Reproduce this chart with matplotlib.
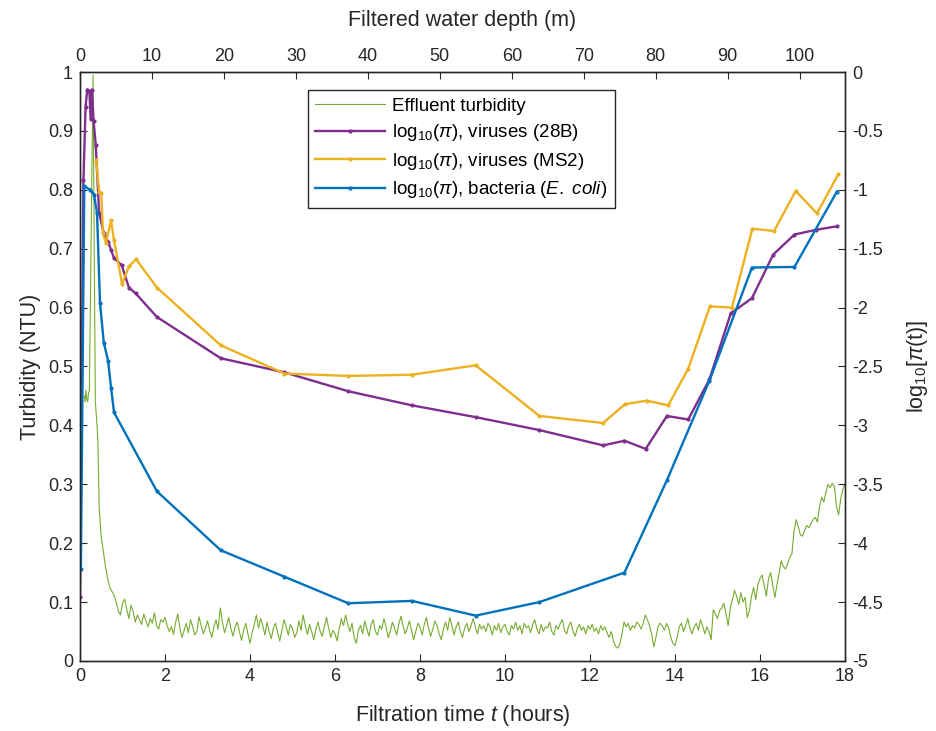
import numpy as np
import matplotlib
matplotlib.use("Agg")
from matplotlib import pyplot as plt
from matplotlib.ticker import FormatStrFormatter

plt.rcParams['font.family'] = ['Liberation Sans', 'DejaVu Sans']
plt.rcParams['axes.unicode_minus'] = False
plt.rcParams['mathtext.fontset'] = 'custom'
plt.rcParams['mathtext.rm'] = 'Liberation Sans'
plt.rcParams['mathtext.it'] = 'Liberation Sans:italic'

# effluent turbidity (NTU), first minutes read point by point
turb_t_early = [0.10, 0.12, 0.14, 0.16, 0.18, 0.20, 0.22, 0.306, 0.36, 0.40, 0.42, 0.45,
                0.50, 0.54, 0.60, 0.65, 0.70, 0.75, 0.80, 0.85, 0.90, 0.95]
turb_v_early = [0.45, 0.44, 0.46, 0.445, 0.44, 0.455, 0.46, 0.995, 0.44, 0.40, 0.375, 0.26,
                0.21, 0.19, 0.16, 0.14, 0.125, 0.118, 0.112, 0.10, 0.085, 0.078]
# then every 3 minutes from 1 h to 18 h
turb_v_main = [
    0.098, 0.105, 0.088, 0.072, 0.095, 0.084, 0.066, 0.078, 0.070, 0.062, 0.080, 0.068, 0.058, 0.072, 0.064, 0.082, 0.060, 0.054, 0.070, 0.066,
    0.074, 0.060, 0.050, 0.058, 0.045, 0.066, 0.080, 0.055, 0.040, 0.052, 0.064, 0.048, 0.070, 0.058, 0.044, 0.050, 0.075, 0.060, 0.046, 0.056,
    0.068, 0.052, 0.040, 0.058, 0.070, 0.054, 0.090, 0.066, 0.048, 0.060, 0.074, 0.055, 0.042, 0.058, 0.066, 0.050, 0.035, 0.052, 0.064, 0.046,
    0.030, 0.048, 0.062, 0.078, 0.056, 0.072, 0.060, 0.044, 0.066, 0.050, 0.038, 0.056, 0.064, 0.048, 0.034, 0.052, 0.070, 0.058, 0.044, 0.062,
    0.055, 0.040, 0.048, 0.068, 0.052, 0.078, 0.060, 0.045, 0.062, 0.050, 0.036, 0.054, 0.066, 0.050, 0.042, 0.058, 0.074, 0.056, 0.040, 0.052,
    0.046, 0.034, 0.056, 0.072, 0.060, 0.078, 0.062, 0.050, 0.064, 0.040, 0.030, 0.052, 0.060, 0.046, 0.068, 0.054, 0.042, 0.062, 0.070, 0.050,
    0.044, 0.060, 0.054, 0.072, 0.058, 0.040, 0.050, 0.066, 0.056, 0.044, 0.062, 0.076, 0.060, 0.046, 0.056, 0.068, 0.052, 0.036, 0.050, 0.064,
    0.058, 0.044, 0.062, 0.074, 0.056, 0.042, 0.054, 0.068, 0.060, 0.046, 0.036, 0.054, 0.066, 0.052, 0.074, 0.060, 0.044, 0.058, 0.066, 0.050,
    0.040, 0.056, 0.064, 0.050, 0.060, 0.072, 0.058, 0.046, 0.062, 0.054, 0.060, 0.050, 0.064, 0.058, 0.044, 0.060, 0.052, 0.064, 0.048, 0.058,
    0.062, 0.050, 0.044, 0.060, 0.054, 0.066, 0.052, 0.060, 0.046, 0.064, 0.056, 0.060, 0.048, 0.062, 0.070, 0.054, 0.046, 0.062, 0.050, 0.058,
    0.056, 0.066, 0.050, 0.044, 0.060, 0.054, 0.064, 0.070, 0.052, 0.046, 0.060, 0.066, 0.050, 0.042, 0.056, 0.062, 0.052, 0.058, 0.046, 0.060,
    0.054, 0.062, 0.050, 0.056, 0.046, 0.060, 0.052, 0.058, 0.048, 0.040, 0.050, 0.034, 0.025, 0.022, 0.028, 0.045, 0.066, 0.058, 0.064, 0.052,
    0.060, 0.056, 0.066, 0.062, 0.054, 0.064, 0.078, 0.070, 0.060, 0.046, 0.024, 0.040, 0.058, 0.064, 0.060, 0.052, 0.064, 0.056, 0.040, 0.030,
    0.026, 0.040, 0.058, 0.064, 0.050, 0.060, 0.072, 0.056, 0.046, 0.058, 0.064, 0.052, 0.070, 0.060, 0.046, 0.058, 0.050, 0.036, 0.087, 0.080,
    0.072, 0.086, 0.090, 0.098, 0.080, 0.060, 0.090, 0.104, 0.120, 0.110, 0.096, 0.116, 0.100, 0.108, 0.074, 0.085, 0.110, 0.125, 0.104, 0.130,
    0.140, 0.146, 0.128, 0.110, 0.140, 0.150, 0.128, 0.108, 0.130, 0.150, 0.170, 0.160, 0.156, 0.165, 0.176, 0.182, 0.220, 0.240, 0.228, 0.214,
    0.212, 0.222, 0.230, 0.226, 0.234, 0.240, 0.244, 0.236, 0.262, 0.278, 0.270, 0.286, 0.300, 0.294, 0.302, 0.296, 0.262, 0.248, 0.276, 0.292,
    0.300,
]

# log10 removal, viruses 28B
v28_t = [0.0, 0.08, 0.13, 0.17, 0.22, 0.25, 0.28, 0.32, 0.37, 0.45, 0.56, 0.66, 0.73, 0.80,
         0.98, 1.15, 1.31, 1.81, 3.31, 4.81, 6.31, 7.81, 9.31, 10.81, 12.31, 12.81, 13.31,
         13.81, 14.31, 14.81, 15.31, 15.81, 16.31, 16.81, 17.31, 17.81]
v28_v = [-4.46, -0.92, -0.30, -0.15, -0.16, -0.40, -0.15, -0.42, -0.62, -1.20, -1.37, -1.44,
         -1.51, -1.58, -1.64, -1.83, -1.88, -2.08, -2.43, -2.55, -2.71, -2.83, -2.93, -3.04,
         -3.17, -3.13, -3.20, -2.92, -2.95, -2.61, -2.05, -1.92, -1.55, -1.38, -1.34, -1.31]

# log10 removal, viruses MS2
ms2_t = [0.38, 0.45, 0.50, 0.54, 0.61, 0.73, 0.80, 0.99, 1.15, 1.32, 1.81, 3.31, 4.81, 6.31,
         7.81, 9.31, 10.81, 12.31, 12.82, 13.34, 13.84, 14.31, 14.82, 15.34, 15.82, 16.33,
         16.84, 17.34, 17.84]
ms2_v = [-0.75, -1.02, -1.03, -1.37, -1.45, -1.26, -1.43, -1.80, -1.65, -1.59, -1.83, -2.32,
         -2.56, -2.58, -2.57, -2.49, -2.92, -2.98, -2.82, -2.79, -2.83, -2.52, -1.99, -2.00,
         -1.33, -1.35, -1.01, -1.20, -0.87]

# log10 removal, bacteria E. coli
eco_t = [0.02, 0.10, 0.24, 0.33, 0.40, 0.47, 0.56, 0.66, 0.73, 0.80, 1.81, 3.31, 4.81, 6.31,
         7.81, 9.31, 10.81, 12.81, 13.81, 14.81, 15.81, 16.81, 17.81]
eco_v = [-4.22, -0.97, -1.00, -1.04, -1.20, -1.96, -2.30, -2.45, -2.68, -2.89, -3.56, -4.06,
         -4.285, -4.51, -4.49, -4.615, -4.50, -4.25, -3.465, -2.62, -1.66, -1.655, -1.015]

max_depth = 106.3  # filtered water depth (m) reached at 18 h

GREEN = "#77AC30"
PURPLE = "#7E2F8E"
YELLOW = "#EDB120"
BLUE = "#0072BD"
INK = "#262626"

turb_t = turb_t_early + list(np.linspace(1.0, 18.0, len(turb_v_main)))
turb_v = turb_v_early + turb_v_main

fig = plt.figure(figsize=(9.36, 7.31), dpi=100)
ax = fig.add_axes([0.0855, 0.0958, 0.8173, 0.8057])

l_turb, = ax.plot(turb_t, turb_v, color=GREEN, lw=0.8, label="Effluent turbidity")
ax.set_xlim(0, 18)
ax.set_ylim(0, 1)
ax.set_xticks(np.arange(0, 19, 2))
ax.set_yticks(np.arange(0, 1.01, 0.1))
ax.yaxis.set_major_formatter(FormatStrFormatter('%g'))
ax.set_xlabel("Filtration time $t$ (hours)", fontsize=15.5, color=INK, labelpad=13)
ax.set_ylabel("Turbidity (NTU)", fontsize=15.5, color=INK, labelpad=5)

ax2 = ax.twinx()
l28, = ax2.plot(v28_t, v28_v, color=PURPLE, lw=1.7, marker='.', ms=4,
                label=r"log$_{10}$($\pi$), viruses (28B)")
lms, = ax2.plot(ms2_t, ms2_v, color=YELLOW, lw=1.7, marker='.', ms=4,
                label=r"log$_{10}$($\pi$), viruses (MS2)")
lec, = ax2.plot(eco_t, eco_v, color=BLUE, lw=1.7, marker='.', ms=4,
                label=r"log$_{10}$($\pi$), bacteria ($\mathit{E.\ coli}$)")
ax2.set_ylim(-5, 0)
ax2.set_yticks(np.arange(-5, 0.01, 0.5))
ax2.yaxis.set_major_formatter(FormatStrFormatter('%g'))
ax2.set_ylabel(r"log$_{10}$[$\pi$(t)]", fontsize=15.5, color=INK, labelpad=16)

ax3 = ax.twiny()
ax3.set_xlim(0, max_depth)
ax3.set_xticks(np.arange(0, 101, 10))
ax3.set_xlabel("Filtered water depth (m)", fontsize=15.5, color=INK, labelpad=16)

for a in (ax, ax2, ax3):
    a.tick_params(direction='in', length=5, width=0.8, labelsize=13, colors=INK, pad=5)
    for s in a.spines.values():
        s.set_color(INK)
        s.set_linewidth(0.9)

handles = [l_turb, l28, lms, lec]
ax3.legend(handles, [h.get_label() for h in handles], loc='upper left',
           bbox_to_anchor=(0.298, 0.969), borderaxespad=0, fontsize=13.5, frameon=True,
           fancybox=False, edgecolor=INK, framealpha=1, handlelength=3.7, borderpad=0.4,
           labelspacing=0.4, handletextpad=0.4)

fig.savefig("out.png", dpi=100)
